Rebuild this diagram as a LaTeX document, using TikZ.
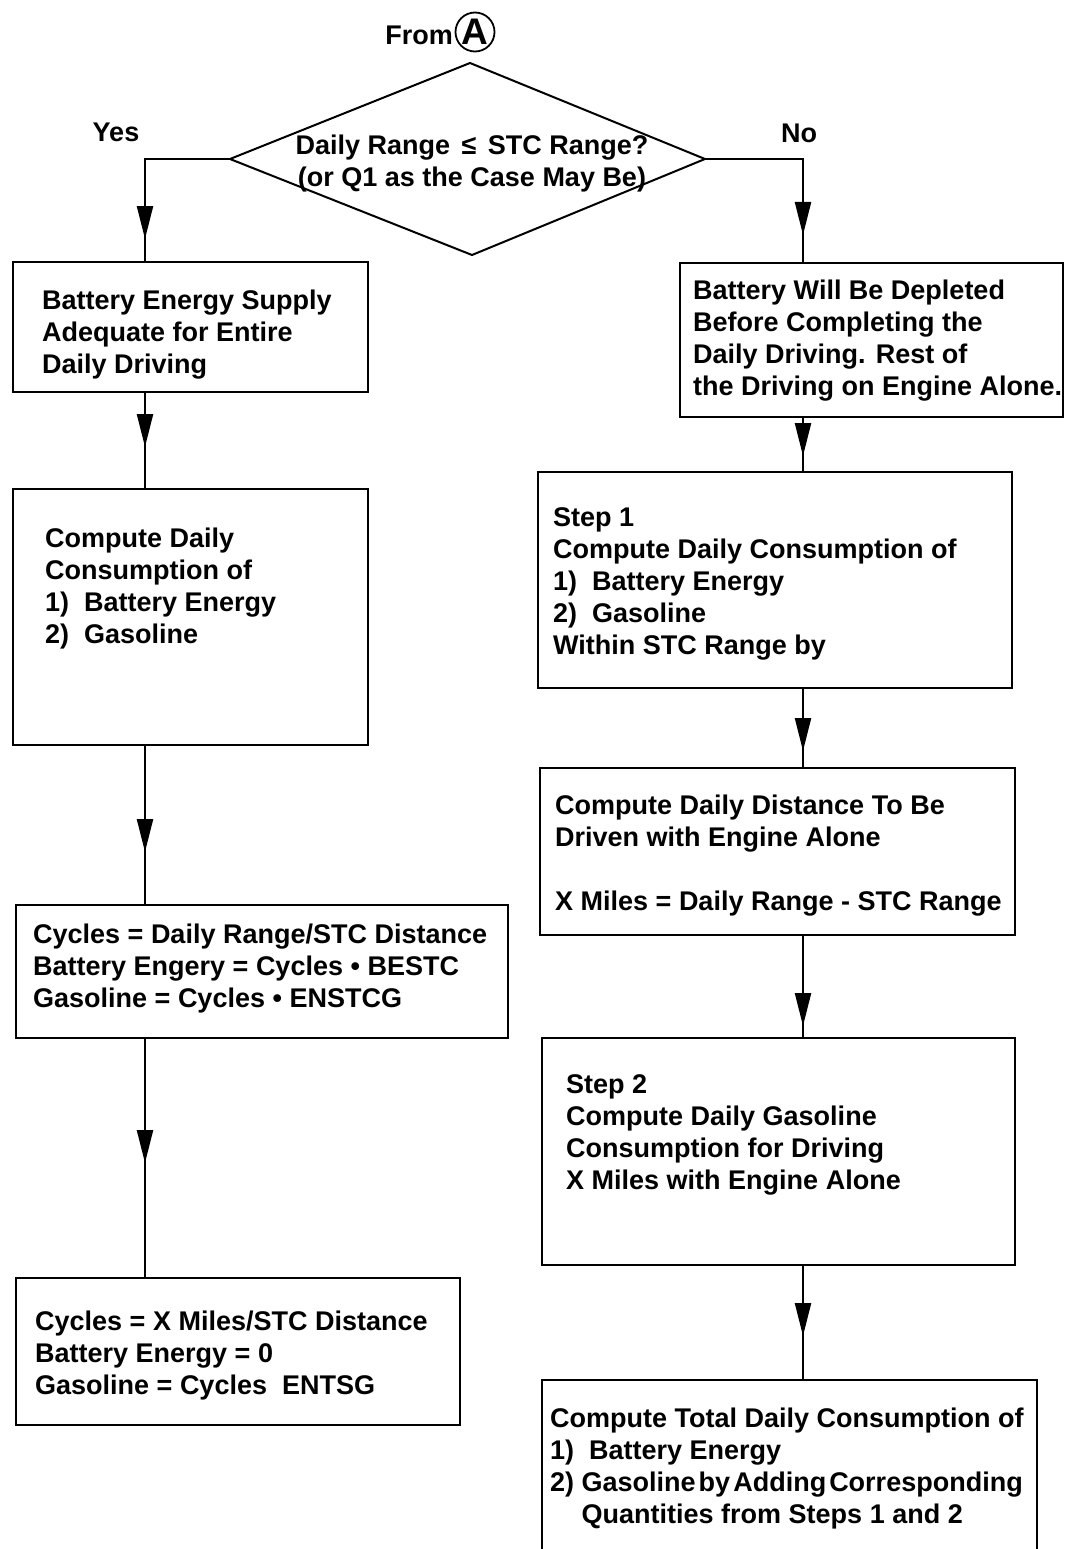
\documentclass[tikz,border=0pt]{standalone}
\usepackage{fontspec}
\setmainfont{Liberation Sans}
\usetikzlibrary{arrows.meta,decorations.markings}

\tikzset{
  box/.style={draw, line width=2pt, rectangle, inner sep=0pt},
  txt/.style={anchor=north west, inner sep=0pt, align=left,
              font=\bfseries\fontsize{27}{32}\selectfont},
  lbl/.style={anchor=base, inner sep=0pt, font=\bfseries\fontsize{27}{32}\selectfont},
  flow/.style={line width=2.3pt},
  tipat/.style={postaction={decorate, decoration={markings,
      mark=at position #1 with {\arrow{Triangle[length=33pt,width=16pt]}}}}},
}

\begin{document}
\begin{tikzpicture}[x=1pt, y=-1pt]
\useasboundingbox (0,0) rectangle (1073,1549);
\clip (0,0) rectangle (1073,1549);
\fill[white] (0,0) rectangle (1073,1549);

% connector columns
\coordinate (cl) at (145,0);
\coordinate (cr) at (803,0);

% entry point
\node[lbl] (from) at (419,45) {From};
\node[draw, circle, line width=1.8pt, minimum size=39pt, inner sep=0pt,
      font=\bfseries\fontsize{37}{37}\selectfont] (a) at (475,32) {A};

% decision
\coordinate (dt) at (470,63);
\coordinate (dr) at (705,159);
\coordinate (db) at (472,255);
\coordinate (dl) at (230,159);
\draw[line width=2pt, line join=miter] (dt) -- (dr) -- (db) -- (dl) -- cycle;
\node[anchor=north, inner sep=0pt, align=center,
      font=\bfseries\fontsize{27}{32}\selectfont] (q) at (472,135)
  {Daily Range\hspace{4pt} ≤\hspace{4pt} STC Range?\\(or Q1 as the Case May Be)};
\node[lbl] (yes) at (116,142) {Yes};
\node[lbl] (no) at (799,143) {No};

% left column boxes
\node[box, minimum width=355pt, minimum height=130pt] (l1) at (190.5,327) {};
\node[box, minimum width=355pt, minimum height=256pt] (l2) at (190.5,617) {};
\node[box, minimum width=492pt, minimum height=133pt] (l3) at (262,971.5) {};
\node[box, minimum width=444pt, minimum height=147pt] (l4) at (238,1351.5) {};

% right column boxes
\node[box, minimum width=383pt, minimum height=154pt] (r1) at (871.5,340) {};
\node[box, minimum width=474pt, minimum height=216pt] (r2) at (775,580) {};
\node[box, minimum width=475pt, minimum height=167pt] (r3) at (777.5,851.5) {};
\node[box, minimum width=473pt, minimum height=227pt] (r4) at (778.5,1151.5) {};
\node[box, minimum width=495pt, minimum height=220pt] (r5) at (789.5,1490) {};

% box texts
\node[txt] (t1) at (42,290) {Battery Energy Supply\\Adequate for Entire\\Daily Driving};
\node[txt] (t2) at (45,528) {Compute Daily\\Consumption of\\1)\ \ Battery Energy\\2)\ \ Gasoline};
\node[txt] (t3) at (33,924) {Cycles = Daily Range/STC Distance\\Battery Engery = Cycles \textbullet\ BESTC\\Gasoline = Cycles \textbullet\ ENSTCG};
\node[txt] (t4) at (35,1311) {Cycles = X Miles/STC Distance\\Battery Energy = 0\\Gasoline = Cycles\ \ ENTSG};
\node[txt] (t5) at (693,280) {Battery Will Be Depleted\\Before Completing the\\Daily Driving. Rest of\\the Driving on Engine Alone.};
\node[txt] (t6) at (553,507) {Step 1\\Compute Daily Consumption of\\1)\ \ Battery Energy\\2)\ \ Gasoline\\Within STC Range by};
\node[txt] (t7) at (555,795) {Compute Daily Distance To Be\\Driven with Engine Alone\\[32pt]X Miles = Daily Range - STC Range};
\node[txt] (t8) at (566,1074) {Step 2\\Compute Daily Gasoline\\Consumption for Driving\\X Miles with Engine Alone};
\node[txt] (t9) at (550,1408) {Compute Total Daily Consumption of\\1)\ \ Battery Energy\\2)\ Gasoline\hspace{3pt}by\hspace{3pt}Adding\hspace{3pt}Corresponding\\\hphantom{2)\ }Quantities from Steps 1 and 2};

% connectors, left branch
\draw[flow, tipat=165pt] (dl) -| (l1.north -| cl);
\draw[flow, tipat=54pt] (l1.south -| cl) -- (l2.north -| cl);
\draw[flow, tipat=106pt] (l2.south -| cl) -- (l3.north -| cl);
\draw[flow, tipat=124pt] (l3.south -| cl) -- (l4.north -| cl);

% connectors, right branch
\draw[flow, tipat=174pt] (dr) -| (r1.north -| cr);
\draw[flow, tipat=38pt] (r1.south -| cr) -- (r2.north -| cr);
\draw[flow, tipat=62pt] (r2.south -| cr) -- (r3.north -| cr);
\draw[flow, tipat=90pt] (r3.south -| cr) -- (r4.north -| cr);
\draw[flow, tipat=70pt] (r4.south -| cr) -- (r5.north -| cr);
\end{tikzpicture}
\end{document}
